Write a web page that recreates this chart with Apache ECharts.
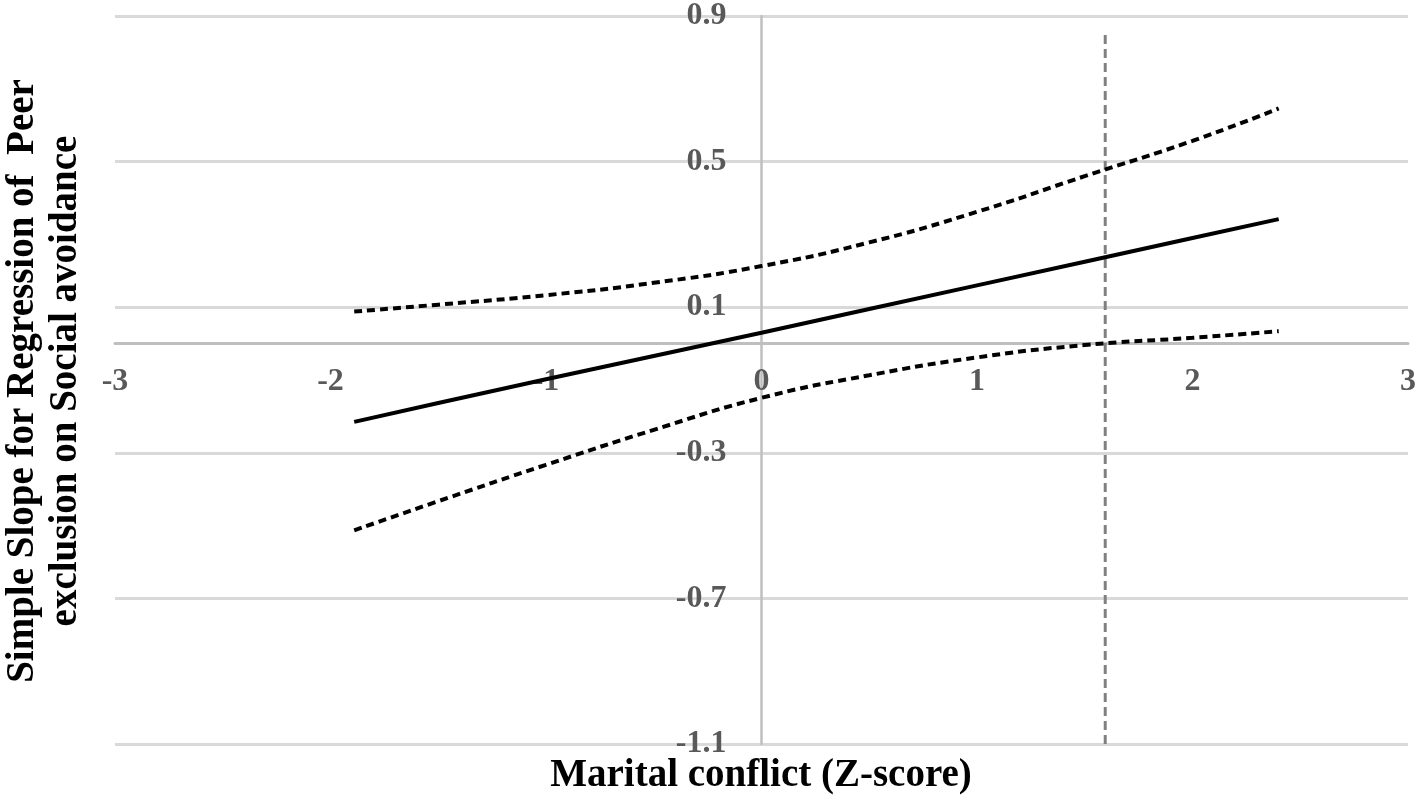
<!DOCTYPE html>
<html>
<head>
<meta charset="utf-8">
<title>simple slope</title>
<script src="https://cdn.jsdelivr.net/npm/echarts@6/dist/echarts.min.js"></script>
<style>
  html, body { margin: 0; padding: 0; background: #fff; }
</style>
</head>
<body>
<div id="main" style="width: 1421px; height: 800px;"></div>
<script>
  // values
  var zScores   = [-1.89, -1.5, -1, -0.5, 0, 0.5, 1, 1.5, 2, 2.4];
  var slope     = [-0.215, -0.163, -0.098, -0.034, 0.030, 0.095, 0.160, 0.225, 0.290, 0.342];
  var upperCI   = [0.088, 0.107, 0.133, 0.167, 0.213, 0.278, 0.362, 0.460, 0.557, 0.646];
  var lowerCI   = [-0.513, -0.433, -0.333, -0.237, -0.149, -0.087, -0.038, -0.004, 0.016, 0.034];
  var jnPoint   = 1.595;          // region of significance boundary
  var jnRange   = [-1.1, 0.853];
  var yTitle    = 'Simple Slope for Regression of  Peer\nexclusion on Social avoidance';
  var xTitle    = 'Marital conflict (Z-score)';

  var serif = '"Liberation Serif", "Times New Roman", serif';

  function pairs(xs, ys) {
    return xs.map(function (x, i) { return [x, ys[i]]; });
  }

  var chart = echarts.init(document.getElementById('main'));

  // grid box
  var gLeft = 115, gRight = 13, gTop = 15, gBottom = 56;
  var plotW = 1421 - gLeft - gRight, plotH = 800 - gTop - gBottom;
  var xMin = -3, xMax = 3, yMin = -1.1, yMax = 0.9;
  // axes cross at zero: shift them in from the grid edges
  var xAxisShift = -plotH * (0 - yMin) / (yMax - yMin);
  var yAxisShift = -plotW * (0 - xMin) / (xMax - xMin);

  var option = {
    animation: false,
    grid: { left: gLeft, right: gRight, top: gTop, bottom: gBottom },
    xAxis: {
      type: 'value',
      min: xMin, max: xMax, interval: 1,
      position: 'bottom', offset: xAxisShift,
      axisLine: { onZero: false, lineStyle: { color: '#bfbfbf', width: 3 } },
      axisTick: { show: false },
      splitLine: { show: false },
      axisLabel: {
        margin: 23,
        color: '#595959', fontSize: 32, fontWeight: 'bold', fontFamily: serif
      }
    },
    yAxis: {
      type: 'value',
      min: yMin, max: yMax, interval: 0.4,
      position: 'left', offset: yAxisShift,
      axisLine: { show: true, onZero: false, lineStyle: { color: '#bfbfbf', width: 2.5 } },
      axisTick: { show: false },
      splitLine: { lineStyle: { color: '#d9d9d9', width: 3 } },
      axisLabel: {
        margin: 35, padding: [4, 0, 0, 0],
        color: '#595959', fontSize: 32, fontWeight: 'bold', fontFamily: serif,
        formatter: function (v) { return (Math.round(v * 10) / 10).toFixed(1); }
      }
    },
    graphic: [
      {
        type: 'text', x: 44, y: 381, rotation: Math.PI / 2,
        style: {
          text: yTitle, fill: '#000', fontSize: 39, fontWeight: 'bold',
          fontFamily: serif, lineHeight: 43,
          textAlign: 'center', textVerticalAlign: 'middle'
        }
      },
      {
        type: 'text', x: 761, y: 776,
        style: {
          text: xTitle, fill: '#000', fontSize: 39, fontWeight: 'bold',
          fontFamily: serif, textAlign: 'center', textVerticalAlign: 'middle'
        }
      }
    ],
    series: [
      {
        name: 'jn', type: 'line', showSymbol: false, z: 1,
        data: [[jnPoint, jnRange[0]], [jnPoint, jnRange[1]]],
        lineStyle: { color: '#808080', width: 3, type: [9, 5] }
      },
      {
        name: 'upper', type: 'line', showSymbol: false, smooth: 0.5,
        data: pairs(zScores, upperCI),
        lineStyle: { color: '#000', width: 4, type: [8, 5] }
      },
      {
        name: 'slope', type: 'line', showSymbol: false,
        data: pairs(zScores, slope),
        lineStyle: { color: '#000', width: 4 }
      },
      {
        name: 'lower', type: 'line', showSymbol: false, smooth: 0.5,
        data: pairs(zScores, lowerCI),
        lineStyle: { color: '#000', width: 4, type: [8, 5] }
      }
    ]
  };

  chart.setOption(option);
</script>
</body>
</html>
